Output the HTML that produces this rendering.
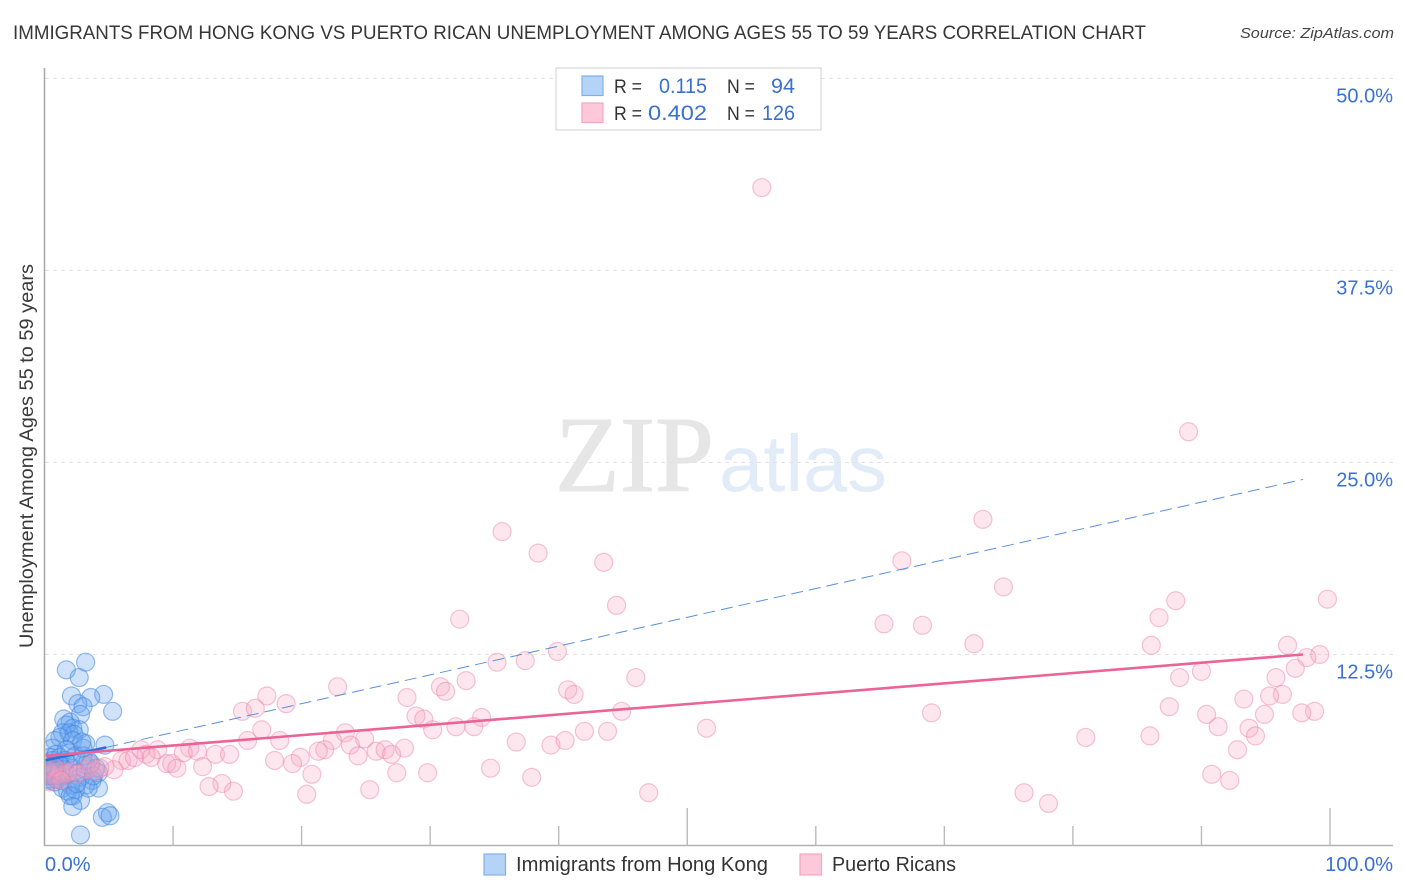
<!DOCTYPE html>
<html lang="en">
<head>
<meta charset="utf-8">
<title>Immigrants from Hong Kong vs Puerto Rican Unemployment Correlation Chart</title>
<style>
html,body{margin:0;padding:0;background:#fff;}
svg{display:block;font-family:"Liberation Sans",sans-serif;}
</style>
</head>
<body>
<svg id="chart" width="1406" height="892" viewBox="0 0 1406 892" xmlns="http://www.w3.org/2000/svg">
  <defs>
    <clipPath id="plot-clip"><rect x="45.5" y="60" width="1360" height="785"></rect></clipPath>
  </defs>
  <text x="13" y="39" font-size="19" fill="#363636" textLength="1133" lengthAdjust="spacingAndGlyphs">IMMIGRANTS FROM HONG KONG VS PUERTO RICAN UNEMPLOYMENT AMONG AGES 55 TO 59 YEARS CORRELATION CHART</text>
  <text x="1394" y="38" font-size="15" font-style="italic" fill="#444" text-anchor="end" textLength="154" lengthAdjust="spacingAndGlyphs">Source: ZipAtlas.com</text>

  <g>
    <text x="555" y="491" font-family="'Liberation Serif',serif" font-size="108" fill="#e6e6e6" stroke="#e6e6e6" stroke-width="1" textLength="159" lengthAdjust="spacingAndGlyphs">ZIP</text>
    <text x="719" y="491" font-size="80" fill="#e2ecf9" textLength="168" lengthAdjust="spacingAndGlyphs">atlas</text>
  </g>

  <g id="grid"></g>
  <g id="axes"></g>
  <g id="points" clip-path="url(#plot-clip)"></g>
  <g id="trends" clip-path="url(#plot-clip)"></g>
  <g id="labels"></g>

  <text transform="translate(33,456) rotate(-90)" font-size="19" fill="#3a3a3a" text-anchor="middle" textLength="384" lengthAdjust="spacingAndGlyphs">Unemployment Among Ages 55 to 59 years</text>

  <g>
    <rect x="556" y="68" width="265" height="62" fill="#fff" stroke="#d8d8d8" stroke-width="1.2"></rect>
    <rect x="582" y="76" width="21" height="19.5" fill="#b5d2f7" stroke="#7fb0ea" stroke-width="1.2"></rect>
    <rect x="582" y="103" width="21" height="19.5" fill="#fdc8d9" stroke="#f4a8c0" stroke-width="1.2"></rect>
    <text x="614" y="93" font-size="19.5" fill="#333" textLength="28" lengthAdjust="spacingAndGlyphs">R =</text>
    <text x="707" y="93" font-size="21.5" fill="#3a70d2" text-anchor="end" textLength="48" lengthAdjust="spacingAndGlyphs">0.115</text>
    <text x="727" y="93" font-size="19.5" fill="#333" textLength="28" lengthAdjust="spacingAndGlyphs">N =</text>
    <text x="795" y="93" font-size="21.5" fill="#3a70d2" text-anchor="end" textLength="24" lengthAdjust="spacingAndGlyphs">94</text>
    <text x="614" y="120" font-size="19.5" fill="#333" textLength="28" lengthAdjust="spacingAndGlyphs">R =</text>
    <text x="707" y="120" font-size="21.5" fill="#3a70d2" text-anchor="end" textLength="59" lengthAdjust="spacingAndGlyphs">0.402</text>
    <text x="727" y="120" font-size="19.5" fill="#333" textLength="28" lengthAdjust="spacingAndGlyphs">N =</text>
    <text x="795" y="120" font-size="21.5" fill="#3a70d2" text-anchor="end" textLength="33" lengthAdjust="spacingAndGlyphs">126</text>
  </g>

  <g>
    <rect x="484" y="854" width="21.5" height="21" fill="#b5d2f7" stroke="#7fb0ea" stroke-width="1.2"></rect>
    <text x="516" y="871" font-size="20" fill="#333" textLength="252" lengthAdjust="spacingAndGlyphs">Immigrants from Hong Kong</text>
    <rect x="800" y="854" width="21.5" height="21" fill="#fdc8d9" stroke="#f4a8c0" stroke-width="1.2"></rect>
    <text x="832" y="871" font-size="20" fill="#333" textLength="124" lengthAdjust="spacingAndGlyphs">Puerto Ricans</text>
  </g>
</svg>
<script>
const yTickValues = [12.5, 25, 37.5, 50];
const yTickLabels = ["12.5%", "25.0%", "37.5%", "50.0%"];
const xTickValues = [10, 20, 30, 40, 50, 60, 70, 80, 90, 100];
const xEndLabels = ["0.0%", "100.0%"];

const hongKongX = [3.2,1.7,2.7,2.1,4.6,3.6,2.6,3.0,2.8,5.3,1.5,2.0,1.7,2.2,2.7,1.4,1.9,2.3,1.2,2.2,0.8,3.2,4.7,3.0,0.6,
  0.4,0.6,0.9,1.2,1.7,2.0,0.8,1.2,0.3,0.6,0.9,1.2,1.5,0.4,0.7,1.1,1.4,1.8,0.4,0.8,0.2,0.2,0.5,1.0,0.3,0.6,0.9,1.3,0.5,0.8,1.6,
  2.2,2.6,3.2,3.4,4.0,4.2,3.7,4.2,3.2,2.8,2.0,1.4,1.8,2.2,2.8,3.4,2.4,2.0,0.5,0.7,2.4,3.0,3.6,0.3,2.5,3.8,
  4.9,4.5,5.1,2.8,2.2,0.4,0.6,0.2,0.8,2.9,0.7,1.0];
const hongKongY = [12.0,11.5,11.0,9.8,9.9,9.7,9.3,9.1,8.6,8.8,8.3,8.1,7.9,7.7,7.6,7.4,7.4,7.3,7.1,6.9,6.9,6.7,6.6,6.4,6.4,
  5.8,5.6,6.0,5.8,6.3,6.1,5.4,5.3,5.1,5.0,5.1,4.9,5.0,4.7,4.6,4.5,4.6,4.7,4.3,4.2,5.4,4.8,5.2,4.8,4.4,4.6,4.4,4.3,4.9,5.2,5.6,
  5.1,4.8,5.3,5.6,5.1,4.8,4.3,3.8,4.0,4.5,4.0,3.8,3.6,3.3,3.0,3.8,3.7,3.3,4.9,4.7,5.9,5.9,5.4,4.6,4.1,4.6,
  2.2,1.9,2.0,0.75,2.6,5.0,4.8,5.0,4.9,6.8,5.0,4.6];

const puertoRicanX = [55.8,89.0,73.0,35.6,38.4,43.5,66.7,74.6,99.8,88.0,44.5,86.7,32.3,65.3,68.3,72.3,86.1,96.7,39.9,99.2,98.2,37.4,35.2,97.3,90.0,
  46.0,32.8,95.8,88.3,22.8,30.8,31.2,40.7,41.2,17.3,18.8,28.2,96.3,95.3,93.3,87.5,15.4,16.4,44.9,69.0,98.8,97.8,94.9,90.4,28.9,
  29.5,34.0,91.3,33.4,32.0,30.2,16.9,51.5,42.0,43.8,23.4,93.7,94.2,86.0,81.0,15.8,18.3,22.4,24.9,36.7,39.4,40.5,23.8,92.8,28.0,
  25.8,26.5,27.0,21.8,21.3,8.8,7.5,7.9,8.3,11.3,10.8,11.9,13.3,14.4,24.4,19.9,17.9,19.3,6.0,6.5,7.0,9.5,9.9,10.3,12.3,
  4.7,5.4,34.7,27.4,29.8,20.8,90.8,37.9,92.2,13.8,12.8,14.7,25.3,20.4,47.0,76.2,78.1,
  0.2,0.5,0.4,0.9,1.2,1.5,1.8,2.1,2.6,0.8,1.3,3.2,3.5,3.9,4.3];
const puertoRicanY = [42.9,27.0,21.3,20.5,19.1,18.5,18.6,16.9,16.1,16.0,15.7,14.9,14.8,14.5,14.4,13.2,13.1,13.1,12.7,12.5,12.3,12.1,12.0,11.6,11.4,
  11.0,10.8,11.0,11.0,10.4,10.4,10.1,10.2,9.9,9.8,9.3,9.7,9.9,9.8,9.6,9.1,8.8,9.0,8.8,8.7,8.8,8.7,8.6,8.6,8.5,
  8.3,8.4,7.8,7.8,7.8,7.6,7.6,7.7,7.5,7.5,7.4,7.7,7.2,7.2,7.1,6.9,6.9,6.9,7.0,6.8,6.6,6.9,6.6,6.3,6.4,
  6.2,6.3,6.0,6.3,6.2,6.3,6.3,6.0,5.8,6.4,6.1,6.2,6.0,6.0,5.9,5.8,5.6,5.4,5.6,5.6,5.8,5.4,5.4,5.1,5.2,
  5.2,5.0,5.1,4.8,4.8,4.7,4.7,4.5,4.3,4.1,3.9,3.6,3.7,3.4,3.5,3.5,2.8,
  5.0,4.7,4.2,4.4,4.9,4.7,4.8,4.9,4.7,5.1,4.3,5.0,5.3,4.9,5.1];

const hongKongTrendX = [0, 4.8, 97.9];
const hongKongTrendY = [5.6, 6.45, 23.9];
const puertoRicanTrendX = [0, 97.9];
const puertoRicanTrendY = [5.9, 12.5];

const SVG_NS = "http://www.w3.org/2000/svg";
function xScale(v){ return 44.5 + v * 12.855; }
function yScale(v){ return 846.5 - v * 15.36; }
function make(tag, attrs, parent){
  const el = document.createElementNS(SVG_NS, tag);
  for (const k in attrs) el.setAttribute(k, attrs[k]);
  parent.appendChild(el);
  return el;
}

const grid = document.getElementById("grid");
const axes = document.getElementById("axes");
const points = document.getElementById("points");
const trends = document.getElementById("trends");
const labels = document.getElementById("labels");

yTickValues.forEach(function(v, i){
  const g = make("line", {x1:45, x2:1393, y1:yScale(v), y2:yScale(v), stroke:"#e2e2e2", "stroke-width":1, "stroke-dasharray":"4 4"}, grid);
  
  
  const t = make("text", {x:1393, y:yScale(v)+24, "font-size":20, fill:"#3a70d2", "text-anchor":"end"}, labels);
  t.textContent = yTickLabels[i];
  
  
});

const yAxisLine = make("line", {x1:44.5, x2:44.5, y1:68, y2:846, stroke:"#aaa", "stroke-width":1.6}, axes);


const xAxisLine = make("line", {x1:44, x2:1393, y1:845.5, y2:845.5, stroke:"#b4b4b4", "stroke-width":1.6}, axes);



xTickValues.forEach(function(v){
  const tall = (v === 50 || v === 100);
  const tick = make("line", {x1:xScale(v), x2:xScale(v), y1:tall ? 808 : 826, y2:845, stroke:"#bbb", "stroke-width":1.4}, axes);
  
  
});

const x0Label = make("text", {x:45, y:871, "font-size":20, fill:"#3a70d2"}, labels);
x0Label.textContent = xEndLabels[0];


const x1Label = make("text", {x:1393, y:871, "font-size":20, fill:"#3a70d2", "text-anchor":"end"}, labels);
x1Label.textContent = xEndLabels[1];



hongKongX.forEach(function(v, i){
  const c = make("circle", {cx:xScale(v), cy:yScale(hongKongY[i]), r:9, fill:"#6aa5ee", "fill-opacity":0.32, stroke:"#3f86e0", "stroke-opacity":0.55, "stroke-width":1.2}, points);
  
  
});
puertoRicanX.forEach(function(v, i){
  const c = make("circle", {cx:xScale(v), cy:yScale(puertoRicanY[i]), r:9, fill:"#f8a6c2", "fill-opacity":0.28, stroke:"#ea7fa6", "stroke-opacity":0.45, "stroke-width":1.2}, points);
  
  
});

const hkSolid = make("line", {x1:xScale(hongKongTrendX[0]), y1:yScale(hongKongTrendY[0]), x2:xScale(hongKongTrendX[1]), y2:yScale(hongKongTrendY[1]), stroke:"#2f70d8", "stroke-width":2.6}, trends);


const hkDash = make("line", {x1:xScale(hongKongTrendX[1]), y1:yScale(hongKongTrendY[1]), x2:xScale(hongKongTrendX[2]), y2:yScale(hongKongTrendY[2]), stroke:"#5a90dc", "stroke-width":1, "stroke-dasharray":"12 6"}, trends);


const prLine = make("line", {x1:xScale(puertoRicanTrendX[0]), y1:yScale(puertoRicanTrendY[0]), x2:xScale(puertoRicanTrendX[1]), y2:yScale(puertoRicanTrendY[1]), stroke:"#ea6496", "stroke-width":2.6}, trends);


</script>
</body>
</html>
